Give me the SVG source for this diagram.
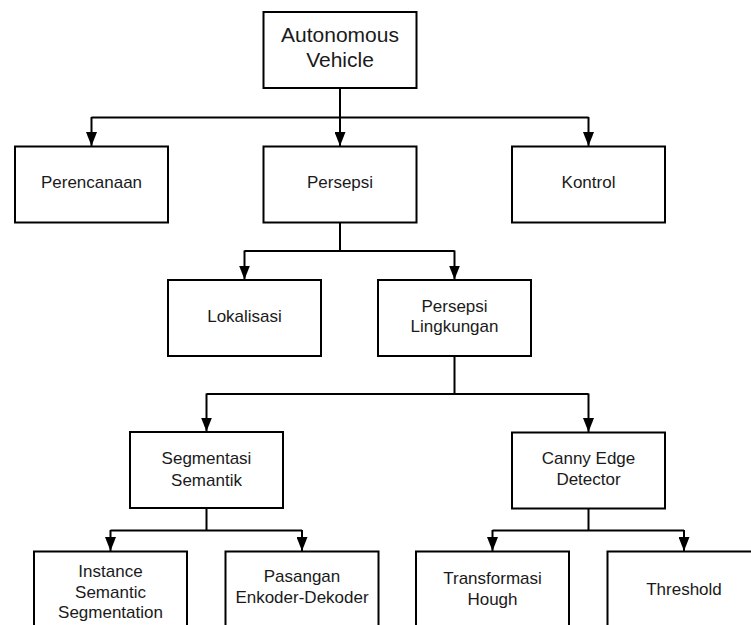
<svg xmlns="http://www.w3.org/2000/svg" width="751" height="625" viewBox="0 0 751 625">
<style>
.box{fill:#fff;stroke:#000;stroke-width:2}
.conn{fill:none;stroke:#000;stroke-width:2}
.t{font-family:"Liberation Sans",Arial,sans-serif;font-size:17px;fill:#1a1a1a;text-anchor:middle}
.big{font-size:21px}
</style>
<defs>
<marker id="arr" markerUnits="userSpaceOnUse" markerWidth="14" markerHeight="11" refX="14" refY="5.5" orient="auto">
<path d="M0,0 L14,5.5 L0,11 z" fill="#000"/>
</marker>
</defs>
<rect width="751" height="625" fill="#fff"/>
<g id="connectors">
<path class="conn" d="M340,88 V117.5 M91.5,117.5 H588.5"/>
<path class="conn" d="M91.5,117 V146" marker-end="url(#arr)"/>
<path class="conn" d="M340,117 V146" marker-end="url(#arr)"/>
<path class="conn" d="M588.5,117 V146" marker-end="url(#arr)"/>
<path class="conn" d="M340,222.5 V251 M244.5,251 H454.5"/>
<path class="conn" d="M244.5,250.5 V279.5" marker-end="url(#arr)"/>
<path class="conn" d="M454.5,250.5 V279.5" marker-end="url(#arr)"/>
<path class="conn" d="M454.5,356 V394 M206.5,394 H588.5"/>
<path class="conn" d="M206.5,393.5 V431.5" marker-end="url(#arr)"/>
<path class="conn" d="M588.5,393.5 V432" marker-end="url(#arr)"/>
<path class="conn" d="M206.5,508 V530.5 M110.5,530.5 H302"/>
<path class="conn" d="M110.5,530 V551" marker-end="url(#arr)"/>
<path class="conn" d="M302,530 V551" marker-end="url(#arr)"/>
<path class="conn" d="M588.5,508.5 V530.5 M492.5,530.5 H684"/>
<path class="conn" d="M492.5,530 V551" marker-end="url(#arr)"/>
<path class="conn" d="M684,530 V551" marker-end="url(#arr)"/>
</g>
<g id="node-autonomous">
<rect class="box" x="263.5" y="12" width="153" height="76"/>
<text class="t big" x="340" y="41.7">Autonomous</text>
<text class="t big" x="340" y="66.7">Vehicle</text>
</g>
<g id="node-perencanaan">
<rect class="box" x="15" y="146.5" width="153" height="76"/>
<text class="t" x="91.5" y="187.5">Perencanaan</text>
</g>
<g id="node-persepsi">
<rect class="box" x="263.5" y="146.5" width="153" height="76"/>
<text class="t" x="340" y="187.5">Persepsi</text>
</g>
<g id="node-kontrol">
<rect class="box" x="512" y="146.5" width="153" height="76"/>
<text class="t" x="588.5" y="187.5">Kontrol</text>
</g>
<g id="node-lokalisasi">
<rect class="box" x="168" y="280" width="153" height="76"/>
<text class="t" x="244.5" y="322">Lokalisasi</text>
</g>
<g id="node-persepsi-lingkungan">
<rect class="box" x="378" y="280" width="153" height="76"/>
<text class="t" x="454.5" y="311.7">Persepsi</text>
<text class="t" x="454.5" y="332.3">Lingkungan</text>
</g>
<g id="node-segmentasi">
<rect class="box" x="130" y="432" width="153" height="76"/>
<text class="t" x="206.5" y="464">Segmentasi</text>
<text class="t" x="206.5" y="485.5">Semantik</text>
</g>
<g id="node-canny">
<rect class="box" x="512" y="432.5" width="153" height="76"/>
<text class="t" x="588.5" y="464">Canny Edge</text>
<text class="t" x="588.5" y="485">Detector</text>
</g>
<g id="node-instance">
<rect class="box" x="34" y="551.5" width="153" height="90"/>
<text class="t" x="110.5" y="577">Instance</text>
<text class="t" x="110.5" y="597.5">Semantic</text>
<text class="t" x="110.5" y="618">Segmentation</text>
</g>
<g id="node-pasangan">
<rect class="box" x="225.5" y="551.5" width="153" height="90"/>
<text class="t" x="302" y="581.7">Pasangan</text>
<text class="t" x="302" y="603">Enkoder-Dekoder</text>
</g>
<g id="node-transformasi">
<rect class="box" x="416" y="551.5" width="153" height="90"/>
<text class="t" x="492.5" y="584">Transformasi</text>
<text class="t" x="492.5" y="605">Hough</text>
</g>
<g id="node-threshold">
<rect class="box" x="607.5" y="551.5" width="153" height="90"/>
<text class="t" x="684" y="595">Threshold</text>
</g>
</svg>
